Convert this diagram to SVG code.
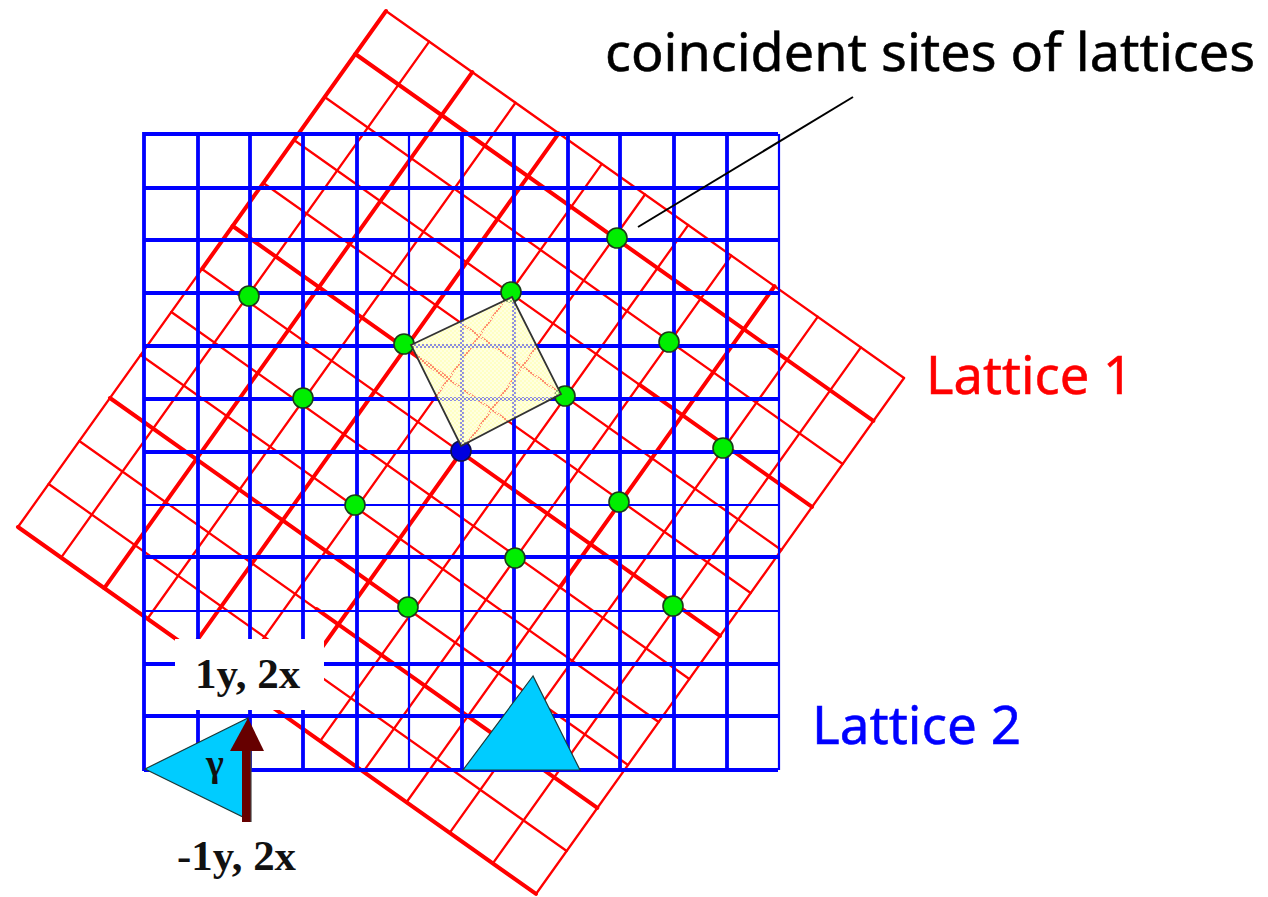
<svg xmlns="http://www.w3.org/2000/svg" width="1268" height="897" viewBox="0 0 1268 897">
<style>
.r{fill:none;stroke:#ff0000;vector-effect:non-scaling-stroke;stroke-linecap:round}
.r1{stroke-width:2.3}
.r2{stroke-width:4}
.b{fill:none;stroke:#0000ff}
.b1{stroke-width:2.2}
.b2{stroke-width:3.8}
.site{fill:#00ee00;stroke:#1a3a1a;stroke-width:1.6}
.tri{fill:#00ccff;stroke:#1a3a3a;stroke-width:1.2}
.big{font-family:"Noto Sans","Open Sans",sans-serif;font-size:52px;stroke-width:0.5}
.ser{font-family:"Liberation Serif",serif;font-weight:bold;font-size:43px;fill:#111}
</style>
<defs>
<pattern id="stip" width="4" height="4" patternUnits="userSpaceOnUse">
<rect width="2" height="2" fill="#ffffc4"/>
<rect x="2" y="2" width="2" height="2" fill="#ffffc4"/>
</pattern>
<filter id="soft" x="-5%" y="-5%" width="110%" height="110%"><feGaussianBlur stdDeviation="0.35"/></filter>
</defs>
<g id="lattice-1" filter="url(#soft)">
<g transform="matrix(43.17 30.58 -30.67 43 386 11)">
<path class="r r1" d="M0 0V12M1 0V12M2 0V12M3 0V12M4 0V12M5 0V12M6 0V12M7 0V12M8 0V12M9 0V12M10 0V12M11 0V12M12 0V12"/>
<path class="r r1" d="M0 0H12M0 1H12M0 2H12M0 3H12M0 4H12M0 5H12M0 6H12M0 7H12M0 8H12M0 9H12M0 10H12M0 11H12M0 12H12"/>
<path class="r r2" d="M2 0V12M4 0V12M0 0V6M6 6V11M9 0V7"/>
<path class="r r2" d="M0 1H12M0 5H5M0 9H7M0 12H12M5.5 10H12M8 3H12M6 6H12"/>
</g>
</g>
<g id="lattice-2" filter="url(#soft)">
<path class="b b2" d="M144 134H778M144 188H778M144 240H778M144 293H778M144 346H778M144 399H778M144 452H778M144 557H778M144 664H778M144 716H778M144 770H778"/>
<path class="b b1" d="M144 505H778M144 611H778"/>
<path class="b b2" d="M144 132V771M198 134V770M250 134V770M303 134V770M357 134V770M462 134V770M514 134V770M568 134V770M620 134V770M674 134V770M727 134V770"/>
<path class="b b1" d="M409 134V770M779 134V770"/>
</g>
<g id="sites">
<circle class="site" cx="617" cy="238" r="10"/>
<circle class="site" cx="511" cy="292" r="10"/>
<circle class="site" cx="249" cy="296" r="10"/>
<circle class="site" cx="404" cy="344" r="10"/>
<circle class="site" cx="669" cy="342" r="10"/>
<circle class="site" cx="303" cy="398" r="10"/>
<circle class="site" cx="565" cy="396" r="10"/>
<circle class="site" cx="723" cy="448" r="10"/>
<circle class="site" cx="355" cy="505" r="10"/>
<circle class="site" cx="619" cy="502" r="10"/>
<circle class="site" cx="515" cy="558" r="10"/>
<circle class="site" cx="408" cy="607" r="10"/>
<circle class="site" cx="673" cy="606" r="10"/>
<circle cx="461" cy="451" r="10" fill="#0000e0" stroke="#10104a" stroke-width="1.6"/>
</g>
<g id="cell">
<polygon points="411,345 512,297 561,394 461,446" fill="#ffffc8" fill-opacity="0.55"/>
<polygon points="411,345 512,297 561,394 461,446" fill="url(#stip)" stroke="#333" stroke-width="1.8"/>
</g>
<rect id="label-patch" x="175" y="639" width="149" height="71" fill="#fff"/>
<g id="triangles">
<polygon class="tri" points="145,769 248,718 243,817"/>
<polygon class="tri" points="533,676 463,770 580,770"/>
</g>
<g id="arrow">
<rect x="242" y="751" width="9" height="71" fill="#660000"/>
<path d="M251 751V822" stroke="#444" stroke-width="1.2"/>
<polygon points="248,718 230,751 264,751" fill="#660000"/>
</g>
<g id="leader"><path d="M853 97L638 227" stroke="#000" stroke-width="2" fill="none"/></g>
<g id="labels">
<text class="big" x="605" y="71" fill="#000" stroke="#000" textLength="650" lengthAdjust="spacingAndGlyphs">coincident sites of lattices</text>
<text class="big" x="926" y="394" fill="#ff0000" stroke="#ff0000" textLength="207" lengthAdjust="spacingAndGlyphs">Lattice 1</text>
<text class="big" x="812" y="744" fill="#0000ff" stroke="#0000ff" textLength="209" lengthAdjust="spacingAndGlyphs">Lattice 2</text>
<text class="ser" x="195" y="688">1y, 2x</text>
<text class="ser" x="177" y="870" textLength="119" lengthAdjust="spacingAndGlyphs">-1y, 2x</text>
<text class="ser" x="206" y="776" style="font-size:38px">γ</text>
</g>
</svg>
